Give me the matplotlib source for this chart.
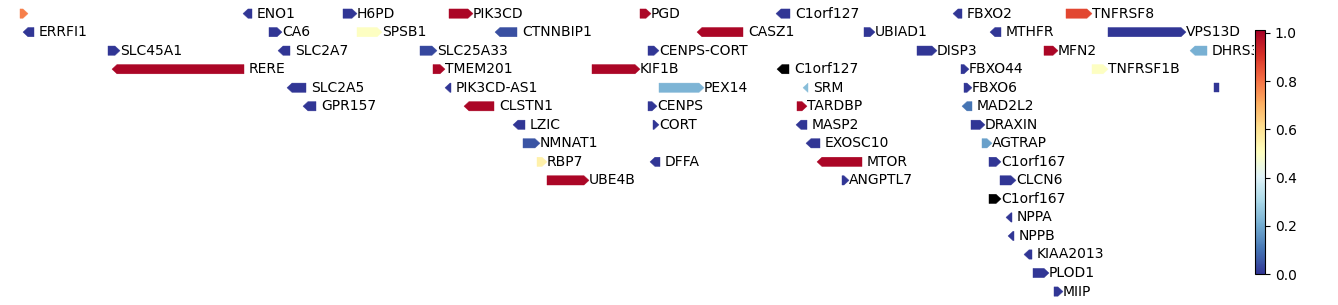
import numpy as np
import matplotlib
matplotlib.use('Agg')
import matplotlib.pyplot as plt
from matplotlib.patches import Polygon

# genes: nome, linha, inicio, fim, fita, valor
names = ['', 'ENO1', 'H6PD', 'PIK3CD', 'PGD', 'C1orf127', 'FBXO2', 'TNFRSF8',
         'ERRFI1', 'CA6', 'SPSB1', 'CTNNBIP1', 'CASZ1', 'UBIAD1', 'MTHFR', 'VPS13D',
         'SLC45A1', 'SLC2A7', 'SLC25A33', 'CENPS-CORT', 'DISP3', 'MFN2', 'DHRS3',
         'RERE', 'TMEM201', 'KIF1B', 'C1orf127', 'FBXO44', 'TNFRSF1B',
         'SLC2A5', 'PIK3CD-AS1', 'PEX14', 'SRM', 'FBXO6', '',
         'GPR157', 'CLSTN1', 'CENPS', 'TARDBP', 'MAD2L2',
         'LZIC', 'CORT', 'MASP2', 'DRAXIN',
         'NMNAT1', 'EXOSC10', 'AGTRAP',
         'RBP7', 'DFFA', 'MTOR', 'C1orf167',
         'UBE4B', 'ANGPTL7', 'CLCN6',
         'C1orf167', 'NPPA', 'NPPB', 'KIAA2013', 'PLOD1', 'MIIP']
rows = [0, 0, 0, 0, 0, 0, 0, 0,
        1, 1, 1, 1, 1, 1, 1, 1,
        2, 2, 2, 2, 2, 2, 2,
        3, 3, 3, 3, 3, 3,
        4, 4, 4, 4, 4, 4,
        5, 5, 5, 5, 5,
        6, 6, 6, 6,
        7, 7, 7,
        8, 8, 8, 8,
        9, 9, 9,
        10, 11, 12, 13, 14, 15]
starts = [20, 243, 343, 449, 640, 776, 953, 1066,
          23, 269, 357, 495, 697, 864, 990, 1108,
          108, 278, 420, 648, 917, 1044, 1190,
          112, 433, 592, 777, 961, 1092,
          287, 445, 659, 803, 964, 1214,
          303, 464, 648, 797, 962,
          513, 653, 796, 971,
          523, 806, 982,
          537, 650, 817, 989,
          547, 842, 1000,
          989, 1006, 1008, 1024, 1033, 1054]
ends = [28, 252, 357, 473, 651, 790, 962, 1092,
        34, 282, 382, 517, 743, 875, 1001, 1186,
        120, 290, 437, 659, 937, 1058, 1207,
        244, 445, 640, 789, 969, 1108,
        306, 451, 704, 808, 972, 1219,
        316, 494, 657, 807, 972,
        525, 659, 807, 985,
        540, 820, 992,
        547, 660, 862, 1001,
        589, 849, 1016,
        1001, 1012, 1014, 1032, 1049, 1063]
strands = [1, -1, 1, 1, 1, -1, -1, 1,
           -1, 1, 1, -1, -1, 1, -1, 1,
           1, -1, 1, 1, 1, 1, -1,
           -1, 1, 1, -1, 1, 1,
           -1, -1, 1, -1, 1, 0,
           -1, -1, 1, 1, -1,
           -1, 1, -1, 1,
           1, -1, 1,
           1, -1, -1, 1,
           1, 1, 1,
           1, -1, -1, -1, 1, 1]
scores = [0.78, 0.0, 0.0, 1.0, 1.0, 0.0, 0.0, 0.87,
          0.0, 0.0, 0.5, 0.04, 1.0, 0.0, 0.0, 0.0,
          0.0, 0.0, 0.03, 0.0, 0.0, 1.0, 0.21,
          1.0, 1.0, 1.0, np.nan, 0.0, 0.5,
          0.0, 0.0, 0.22, 0.24, 0.0, 0.0,
          0.0, 1.0, 0.0, 1.0, 0.1,
          0.0, 0.0, 0.0, 0.0,
          0.05, 0.0, 0.18,
          0.55, 0.0, 1.0, 0.0,
          1.0, 0.0, 0.0,
          np.nan, 0.0, 0.0, 0.0, 0.0, 0.0]

W, H = 1338, 305
fig = plt.figure(figsize=(W / 100, H / 100), dpi=100)

x0, x1 = 10, 1254
row_h = 18.53
y_top = 13.6
ax = fig.add_axes([x0 / W, 0, (x1 - x0) / W, 1])
ax.set_xlim(x0, x1)
ax.set_ylim((H - y_top) / row_h, -y_top / row_h)
ax.axis('off')

cmap = plt.get_cmap('RdYlBu_r').copy()
cmap.set_bad('black')
norm = matplotlib.colors.Normalize(vmin=0.0, vmax=1.012)

half = 0.25
head = 5
for name, r, s, e, st, v in zip(names, rows, starts, ends, strands, scores):
    color = 'black' if np.isnan(v) else cmap(norm(v))
    hl = min(head, e - s)
    if st > 0:
        pts = [(s, r - half), (e - hl, r - half), (e, r), (e - hl, r + half), (s, r + half)]
    elif st < 0:
        pts = [(e, r - half), (s + hl, r - half), (s, r), (s + hl, r + half), (e, r + half)]
    else:
        pts = [(s, r - half), (e, r - half), (e, r + half), (s, r + half)]
    ax.add_patch(Polygon(pts, closed=True, facecolor=color, edgecolor=color, linewidth=0.3))
    if name:
        off = 0 if st > 0 else 5
        ax.text(e + off, r, name, ha='left', va='center', fontsize=10, clip_on=True)

# barra de cores
cax = fig.add_axes([1255 / W, (H - 274) / H, 10 / W, 244 / H])
sm = matplotlib.cm.ScalarMappable(norm=norm, cmap=cmap)
cb = fig.colorbar(sm, cax=cax)
cb.set_ticks([0.0, 0.2, 0.4, 0.6, 0.8, 1.0])
cb.ax.tick_params(labelsize=10)
cb.outline.set_linewidth(0.8)

plt.savefig('out.png', dpi=100)
